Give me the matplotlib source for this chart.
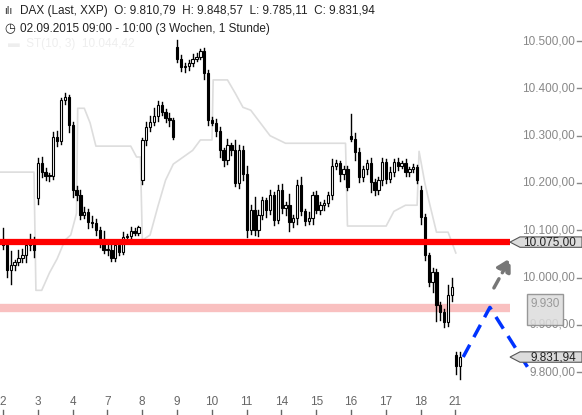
import numpy as np
import matplotlib.pyplot as plt
from matplotlib.patches import Rectangle, Polygon

plt.rcParams['font.family'] = ['Liberation Sans', 'DejaVu Sans']

# ----- Data (hourly candles, 9 per day) -----
days = ['2', '3', '4', '7', '8', '9', '10', '11', '14', '15', '16', '17', '18', '21']
closes = [
    10068, 10016, 10026, 10032, 10041, 10048, 10068, 10079, 10058,   # 2
    10242, 10223, 10215, 10214, 10297, 10288, 10375, 10381, 10322,   # 3
    10185, 10174, 10132, 10139, 10117, 10115, 10101, 10079, 10058,   # 4
    10058, 10042, 10068, 10055, 10086, 10088, 10099, 10095, 10106,   # 7
    10291, 10318, 10329, 10342, 10364, 10350, 10337, 10333, 10297,   # 8
    10462, 10446, 10448, 10454, 10462, 10467, 10480, 10432, 10333,   # 9
    10326, 10310, 10270, 10248, 10280, 10270, 10199, 10270, 10218,   # 10
    10101, 10143, 10101, 10132, 10164, 10143, 10174, 10121, 10185,   # 11
    10147, 10153, 10117, 10126, 10196, 10140, 10120, 10126, 10174,   # 14
    10143, 10153, 10157, 10174, 10237, 10242, 10218, 10229, 10191,   # 15
    10294, 10265, 10212, 10229, 10242, 10202, 10185, 10207, 10245,   # 16
    10209, 10223, 10245, 10237, 10242, 10223, 10229, 10234, 10207,   # 17
    10128, 10047, 9990, 10011, 9942, 9927, 9906, 9963, 9980,         # 18
    9812, 9832,                                                       # 21
]
gap_opens = {0: 10080, 9: 10168, 36: 10206, 45: 10487, 90: 10300, 108: 10185, 117: 9836}
upper_wick = [
    25, 8, 30, 6, 18, 12, 10, 14, 6,
    10, 12, 8, 6, 10, 14, 4, 10, 6,
    6, 8, 12, 10, 6, 14, 8, 6, 20,
    10, 14, 8, 6, 10, 4, 8, 6, 4,
    4, 10, 12, 16, 10, 8, 6, 10, 4,
    16, 8, 6, 6, 10, 8, 4, 6, 6,
    6, 10, 8, 4, 14, 4, 20, 10, 8,
    18, 10, 28, 10, 6, 4, 12, 6, 10,
    12, 6, 24, 6, 10, 16, 6, 12, 8,
    10, 6, 8, 6, 14, 6, 4, 6, 6,
    45, 12, 8, 6, 6, 10, 6, 6, 8,
    6, 10, 6, 8, 4, 8, 4, 6, 4,
    8, 6, 4, 10, 8, 6, 6, 22, 20,
    6, 10,
]
lower_wick = [
    8, 14, 30, 10, 6, 8, 16, 10, 14,
    12, 10, 8, 10, 6, 10, 6, 8, 14,
    14, 10, 8, 6, 12, 8, 10, 14, 6,
    10, 8, 6, 8, 6, 10, 6, 6, 4,
    8, 10, 8, 6, 10, 6, 8, 12, 4,
    6, 10, 12, 8, 6, 4, 4, 12, 10,
    4, 10, 16, 12, 8, 10, 6, 10, 12,
    16, 8, 10, 14, 8, 14, 8, 10, 6,
    10, 14, 18, 10, 12, 8, 8, 6, 12,
    6, 8, 10, 6, 8, 8, 14, 10, 6,
    6, 16, 10, 8, 10, 22, 10, 8, 12,
    10, 6, 8, 10, 6, 8, 8, 6, 8,
    14, 10, 8, 20, 34, 16, 10, 8, 12,
    16, 26,
]
# SuperTrend(10,3) breakpoints (candle index, value)
st_idx = [-1, 8, 8.5, 10, 12, 14, 16, 17.5, 19, 19.3, 21, 22.5, 24, 33, 34.5, 35.5, 36, 38, 40, 42, 44,
          49, 51, 54, 54.3, 58, 60, 62, 64, 69, 73, 88.5, 89, 99, 101, 104, 107, 107.5, 109, 110, 112, 115, 117]
st_val = [10223, 10223, 9973, 9973, 10010, 10040, 10079, 10090, 10136, 10358, 10358, 10327, 10278, 10278, 10255,
          10255, 10079, 10090, 10150, 10206, 10240, 10269, 10291, 10291, 10418, 10418, 10390, 10360, 10354, 10300,
          10284, 10284, 10109, 10109, 10140, 10153, 10153, 10267, 10200, 10164, 10096, 10096, 10052]
support = 10075.0
zone = 9935.0
last_price = 9831.94
target_box = 9930
blue_path_x = [118.9, 125.8, 135.6]
blue_path_y = [9832, 9937, 9810]
grey_arrow = [(126.5, 9973), (131.5, 10047)]

# ----- Figure -----
W, H = 582, 415
fig = plt.figure(figsize=(W / 100, H / 100), dpi=100)
ax = fig.add_axes([0, 23 / H, 510 / W, 392 / H])
ax.set_xlim(-0.78, 131)
ax.set_ylim(9758, 10587)
for s in ax.spines.values():
    s.set_visible(False)
ax.set_xticks([])
ax.set_yticks([])

ax.plot(st_idx, st_val, color='#dddddd', lw=1.2, zorder=1)
ax.axhline(zone, color='#f9c0c0', lw=6, zorder=1)
ax.axhline(support, color='#ff0000', lw=4.5, zorder=3)

prev = closes[0]
for i, c in enumerate(closes):
    o = gap_opens.get(i, prev)
    hi = max(o, c) + upper_wick[i]
    lo = min(o, c) - lower_wick[i]
    ax.plot([i, i], [lo, hi], color='black', lw=1, zorder=2)
    bull = c >= o
    body = max(abs(c - o), 2)
    ax.add_patch(Rectangle((i - 0.3, min(o, c)), 0.6, body, facecolor='white' if bull else 'black',
                           edgecolor='black', lw=0.8, zorder=2))
    prev = c

# projections
ax.plot(blue_path_x, blue_path_y, color='#0033ff', lw=2.5, ls=(0, (4, 2.5)), clip_on=False, zorder=4)
ax.annotate('', xy=grey_arrow[1], xytext=grey_arrow[0],
            arrowprops=dict(arrowstyle='-|>,head_width=0.45,head_length=0.8', color='#777777', lw=2.5,
                            ls=(0, (3, 2))), annotation_clip=False, zorder=4)

# right axis labels
t = ax.get_yaxis_transform()
for v in range(9800, 10501, 100):
    lab = f'{v:,.2f}'.replace(',', 'X').replace('.', ',').replace('X', '.')
    ax.text(575 / 510, v, lab, transform=t, ha='right', va='center',
            fontsize=8.5, color='#888888', clip_on=False)
    ax.plot([577 / 510, 582 / 510], [v, v], transform=t, color='#888888', lw=1, clip_on=False)

# price tags
def tag(val, text):
    dy = 11
    pts = [(510 / 510, val), (520 / 510, val + dy), (582 / 510, val + dy), (582 / 510, val - dy), (520 / 510, val - dy)]
    ax.add_patch(Polygon(pts, closed=True, transform=t, facecolor='#dcdcdc', edgecolor='#555555', lw=0.8,
                         clip_on=False, zorder=5))
    ax.text(576 / 510, val, text, transform=t, ha='right', va='center', fontsize=8.5, color='#222222',
            clip_on=False, zorder=6)

tag(support, '10.075,00')
tag(last_price, '9.831,94')
ax.add_patch(Rectangle((527 / 510, 9965), 36 / 510, -66, transform=t, facecolor='#dcdcdc', edgecolor='#888888',
                       lw=1, alpha=0.85, clip_on=False, zorder=5))
ax.text(545 / 510, 9945, f'{target_box:,}'.replace(',', '.'), transform=t, ha='center', va='center',
        fontsize=8.5, color='#999999', clip_on=False, zorder=6)

# day labels
for k, d in enumerate(days):
    x = 3 + 34.8 * k
    fig.text(x / W, 1 - 402 / H, d, ha='center', va='center', fontsize=8.5, color='#666666')
    fig.lines.append(plt.Line2D([x / W, x / W], [1 - 410 / H, 1 - 415 / H], transform=fig.transFigure,
                                color='#666666', lw=1))

# header
fig.text(20 / W, 1 - 11 / H, 'DAX (Last, XXP)  O: 9.810,79  H: 9.848,57  L: 9.785,11  C: 9.831,94',
         fontsize=8.5, color='#222222', va='center')
fig.text(4 / W, 1 - 11 / H, 'ılı', fontsize=7, color='#222222', va='center', family='DejaVu Sans')
fig.text(20 / W, 1 - 29 / H, '02.09.2015 09:00 - 10:00 (3 Wochen, 1 Stunde)', fontsize=8.5, color='#222222',
         va='center')
fig.text(4 / W, 1 - 29 / H, '◷', fontsize=9, color='#222222', va='center', family='DejaVu Sans')
fig.text(8 / W, 1 - 44 / H, '▬  ST(10, 3)  10.044,42', fontsize=8.5, color='#eeeeee', va='center',
         family=['Liberation Sans', 'DejaVu Sans'])

fig.savefig('out.png', dpi=100)
